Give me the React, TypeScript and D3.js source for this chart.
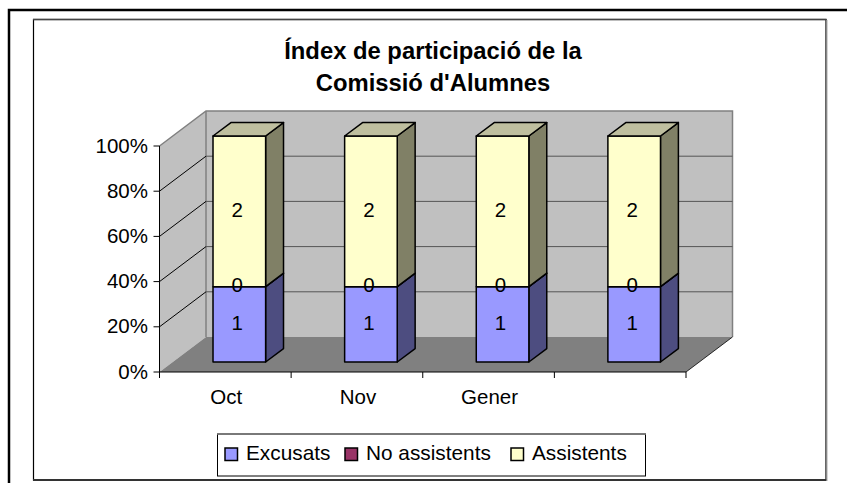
import React from "react";
import * as d3 from "d3";

const title = ["Índex de participació de la", "Comissió d'Alumnes"];
const categories = ["Oct", "Nov", "Gener", ""];
const seriesNames = ["Excusats", "No assistents", "Assistents"];
const excusats = [1, 1, 1, 1];
const noAssistents = [0, 0, 0, 0];
const assistents = [2, 2, 2, 2];
const yTicks = [0, 0.2, 0.4, 0.6, 0.8, 1];

const front = ["#9999ff", "#993366", "#ffffcc"];
const side = ["#4d4d80", "#4d1a33", "#808066"];
const topC = "#bfbf9f";

const x = d3.scaleBand<number>().domain(d3.range(categories.length)).range([159.5, 686]);
const y = d3.scaleLinear().domain([0, 1]).range([372, 146]);
const depthDx = 46.5, depthDy = -35;
const barStart = 0.285, barEnd = 0.67;
const barW = 52.6;
const font = "'Liberation Sans', Arial, sans-serif";
const P = (pts: [number, number][]) => pts.map((p) => p.join(",")).join(" ");

export default function App() {
  const stack = d3.stack<number>().keys(["0", "1", "2"]).value((i, k) => [excusats, noAssistents, assistents][+k][i]).offset(d3.stackOffsetExpand)(d3.range(categories.length));
  const x0 = x(0)!, x1 = x0 + x.step() * categories.length, bot = y(0), tp = y(1);
  return (
    <svg width={847} height={483} style={{ position: "absolute", left: 0, top: 0, background: "#fff" }} fontFamily={font}>
      <rect x={9} y={10} width={870} height={490} fill="#fff" stroke="#000" strokeWidth={2.5} />
      <rect x={33.5} y={19.5} width={792.5} height={460.5} fill="#fff" stroke="#000" strokeWidth={1.2} />
      <line x1={33} x2={826.5} y1={19.5} y2={19.5} stroke="#444" strokeWidth={1.6} />
      <line x1={33} x2={826.5} y1={480} y2={480} stroke="#333" strokeWidth={1.8} />
      <line x1={827} x2={827} y1={20} y2={481} stroke="#aaa" strokeWidth={1} />

      {title.map((t, i) => (
        <text key={i} x={433} y={58.5 + i * 32.5} textAnchor="middle" fontWeight="bold" fontSize={23.8} fill="#000">{t}</text>
      ))}

      {/* walls */}
      <polygon points={P([[x0, bot], [x0 + depthDx, bot + depthDy], [x0 + depthDx, tp + depthDy], [x0, tp]])} fill="#c0c0c0" />
      <polygon points={P([[x0 + depthDx, bot + depthDy], [x1 + depthDx, bot + depthDy], [x1 + depthDx, tp + depthDy], [x0 + depthDx, tp + depthDy]])} fill="#c0c0c0" />
      <polygon points={P([[x0, bot], [x1, bot], [x1 + depthDx, bot + depthDy], [x0 + depthDx, bot + depthDy]])} fill="#808080" />
      <polyline points={P([[x0, tp], [x0 + depthDx, tp + depthDy], [x1 + depthDx, tp + depthDy], [x1 + depthDx, bot + depthDy]])} fill="none" stroke="#808080" strokeWidth={1.5} />
      <line x1={x0 + depthDx} x2={x0 + depthDx} y1={tp + depthDy} y2={bot + depthDy} stroke="#808080" strokeWidth={1.5} />

      {/* gridlines */}
      {yTicks.slice(1, -1).map((t) => (
        <g key={t} fill="none" strokeWidth={1}>
          <line x1={x0} y1={y(t)} x2={x0 + depthDx} y2={y(t) + depthDy} stroke="#000" />
          <line x1={x0 + depthDx} y1={y(t) + depthDy} x2={x1 + depthDx} y2={y(t) + depthDy} stroke="#555" />
        </g>
      ))}
      <line x1={x1} y1={bot} x2={x1 + depthDx} y2={bot + depthDy} stroke="#000" strokeWidth={0.8} />

      {/* axes */}
      <line x1={x0} x2={x0} y1={tp} y2={bot} stroke="#000" strokeWidth={1} />
      <line x1={x0} x2={x1} y1={bot} y2={bot} stroke="#000" strokeWidth={1} />
      {yTicks.map((t) => (
        <g key={t}>
          <line x1={x0 - 6} x2={x0} y1={y(t)} y2={y(t)} stroke="#000" />
          <text x={x0 - 11.5} y={y(t) + 6.5} textAnchor="end" fontSize={20.5} fill="#000">{d3.format(".0%")(t)}</text>
        </g>
      ))}
      {d3.range(categories.length + 1).map((i) => (
        <line key={i} x1={x0 + i * x.step()} x2={x0 + i * x.step()} y1={bot} y2={bot + 6} stroke="#000" />
      ))}
      {categories.map((c, i) => (
        <text key={i} x={x(i)! + x.bandwidth() / 2 + 1} y={403.5} textAnchor="middle" fontSize={20.5} fill="#000">{c}</text>
      ))}

      {/* bars */}
      {categories.map((_, i) => {
        const bx0 = x(i)! + x.bandwidth() / 2 + 14 - barW / 2 + barStart * depthDx - 13.25;
        const bx1 = bx0 + barW;
        const dx = (barEnd - barStart) * depthDx, dy = (barEnd - barStart) * depthDy;
        const oy = barStart * depthDy;
        return (
          <g key={i} stroke="#000" strokeWidth={1.5} strokeLinejoin="round">
            {stack.map((s, k) => {
              const yb = y(s[i][0]) + oy, yt = y(s[i][1]) + oy;
              return (
                <g key={k}>
                  <polygon points={P([[bx1, yb], [bx1 + dx, yb + dy], [bx1 + dx, yt + dy], [bx1, yt]])} fill={side[k]} />
                  <rect x={bx0} y={yt} width={barW} height={yb - yt} fill={front[k]} />
                </g>
              );
            })}
            <polygon points={P([[bx0, y(1) + oy], [bx1, y(1) + oy], [bx1 + dx, y(1) + oy + dy], [bx0 + dx, y(1) + oy + dy]])} fill={topC} />
          </g>
        );
      })}
      {categories.map((_, i) => {
        const cx = x(i)! + x.bandwidth() / 2 + 12;
        return (
          <g key={i}>
            {stack.map((s, k) => {
              const mid = (s[i][0] + s[i][1]) / 2;
              const v = [excusats, noAssistents, assistents][k][i];
              return (
                <text key={k} x={cx} y={y(mid) + barStart * depthDy + 5.5} textAnchor="middle" fontSize={20.5} fill="#000">{v}</text>
              );
            })}
          </g>
        );
      })}

      {/* legend */}
      <rect x={217.5} y={434} width={428} height={42} fill="#fff" stroke="#000" strokeWidth={1} />
      <line x1={217} x2={646} y1={434} y2={434} stroke="#777" strokeWidth={1.4} />
      {seriesNames.map((n, k) => {
        const sx = [225, 345, 511][k];
        const tx = [246, 366, 532][k];
        return (
          <g key={n}>
            <rect x={sx} y={448} width={12.5} height={12.5} fill={front[k]} stroke="#000" strokeWidth={1.5} />
            <text x={tx} y={460} fontSize={20.8} fill="#000">{n}</text>
          </g>
        );
      })}
    </svg>
  );
}
